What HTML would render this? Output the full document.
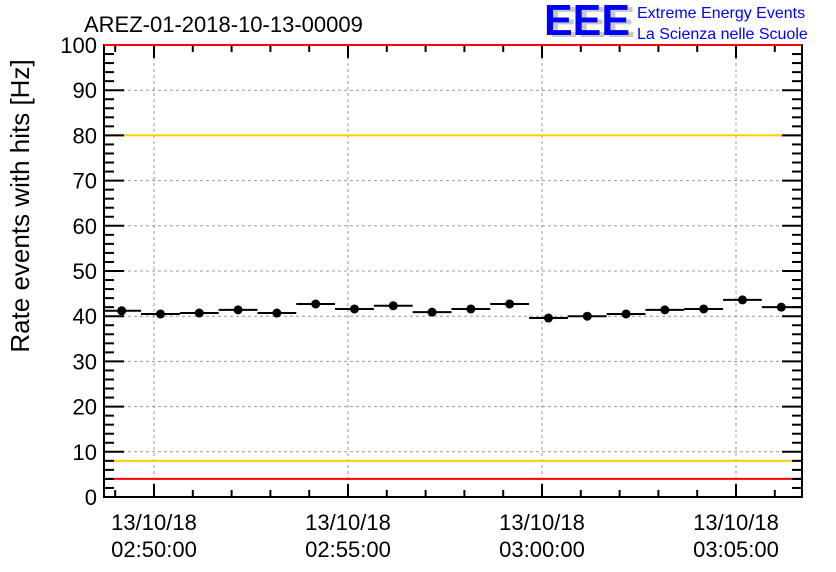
<!DOCTYPE html>
<html><head><meta charset="utf-8"><style>
body{margin:0;background:#fff;}
svg{display:block;font-family:"Liberation Sans",sans-serif;}
</style></head><body>
<svg id="chart" width="836" height="572" viewBox="0 0 836 572">
<rect width="836" height="572" fill="#fff"/>
<text x="84" y="32" font-size="22" fill="#000">AREZ-01-2018-10-13-00009</text>
<g>
<text x="549" y="37" font-size="44" font-weight="bold" fill="#c8c8c8" textLength="86" lengthAdjust="spacingAndGlyphs">EEE</text>
<text x="544" y="35" font-size="44" font-weight="bold" fill="#0000ff" textLength="86" lengthAdjust="spacingAndGlyphs">EEE</text>
<text x="637" y="18" font-size="16" fill="#0000ff">Extreme Energy Events</text>
<text x="637" y="39" font-size="16" fill="#0000ff">La Scienza nelle Scuole</text>
</g>
<text transform="translate(29,206) rotate(-90)" text-anchor="middle" font-size="26" fill="#000">Rate events with hits [Hz]</text>
<g id="grid"></g><g id="lines"></g><g id="axes"></g><g id="marks"></g>
</svg>
<script>
const values=[41.2,40.5,40.7,41.4,40.7,42.7,41.6,42.3,40.9,41.6,42.7,39.6,40.0,40.5,41.4,41.6,43.6,42.0];
const binStartSec=-80;
const binWidthSec=60;
const yTicks=[0,10,20,30,40,50,60,70,80,90,100];
const xTickMinutes=[0,5,10,15];
const xTickLabels=["02:50:00","02:55:00","03:00:00","03:05:00"];
const dateLabel="13/10/18";
const refLines=[{v:80,c:"#ffcc00"},{v:8,c:"#ffcc00"},{v:4,c:"#ff0000"}];

const PL=104,PR=802,PT=45,PB=497;
const x0=154,pxPerSec=38.8/60;
const X=s=>x0+s*pxPerSec;
const Y=v=>PB-(v/100)*(PB-PT);
const NS="http://www.w3.org/2000/svg";
function mk(p,tag,a){const e=document.createElementNS(NS,tag);for(const k in a)e.setAttribute(k,a[k]);p.appendChild(e);return e;}
const grid=document.getElementById('grid'),lines=document.getElementById('lines'),axes=document.getElementById('axes'),marks=document.getElementById('marks');

yTicks.forEach(v=>{
 if(v>0&&v<100){const g=mk(grid,'line',{x1:PL,x2:PR,y1:Y(v),y2:Y(v),stroke:'#999','stroke-dasharray':'3,3','stroke-width':1});
 
 }
 const t=mk(axes,'text',{x:PL-7,y:Y(v)+8,'text-anchor':'end','font-size':22});
 t.textContent=v;
 
 
});
for(let v=0;v<=100;v+=2){const maj=v%10===0;
 mk(axes,'line',{x1:PL,x2:PL+(maj?20:10),y1:Y(v),y2:Y(v),stroke:'#000','stroke-width':2});
 mk(axes,'line',{x1:PR,x2:PR-(maj?20:10),y1:Y(v),y2:Y(v),stroke:'#000','stroke-width':2});}
xTickMinutes.forEach((m,i)=>{
 const x=X(m*60);
 const g=mk(grid,'line',{x1:x,x2:x,y1:PT,y2:PB,stroke:'#999','stroke-dasharray':'3,3','stroke-width':1});
 
 
 const t=mk(axes,'text',{x:x,y:530,'text-anchor':'middle','font-size':22});
 t.textContent=dateLabel;
 
 
 const t2=mk(axes,'text',{x:x,y:557,'text-anchor':'middle','font-size':22});
 t2.textContent=xTickLabels[i];
 
 
});
for(let m=-1;m<=16;m++){const x=X(m*60);if(x<PL||x>PR)continue;const maj=m%5===0;
 mk(axes,'line',{x1:x,x2:x,y1:PB,y2:PB-(maj?13:7),stroke:'#000','stroke-width':2});
 mk(axes,'line',{x1:x,x2:x,y1:PT,y2:PT+(maj?13:7),stroke:'#000','stroke-width':2});}
refLines.forEach(r=>{const l=mk(lines,'line',{x1:PL,x2:PR,y1:Y(r.v),y2:Y(r.v),stroke:r.c,'stroke-width':2});
 
 });
mk(axes,'rect',{x:PL,y:PT,width:PR-PL,height:PB-PT,fill:'none',stroke:'#000','stroke-width':2});
mk(axes,'line',{x1:PL,x2:PR,y1:Y(100),y2:Y(100),stroke:'#ff0000','stroke-width':2});
values.forEach((v,i)=>{
 const s=binStartSec+i*binWidthSec;
 const xa=Math.max(PL,X(s)),xb=Math.min(PR,X(s+binWidthSec)),xc=X(s+binWidthSec/2),y=Y(v);
 const l=mk(marks,'line',{x1:xa,x2:xb,y1:y,y2:y,stroke:'#000','stroke-width':2});
 
 
 const c=mk(marks,'circle',{cx:xc,cy:y,r:4.5,fill:'#000'});
 
 
});
</script>
</body></html>
